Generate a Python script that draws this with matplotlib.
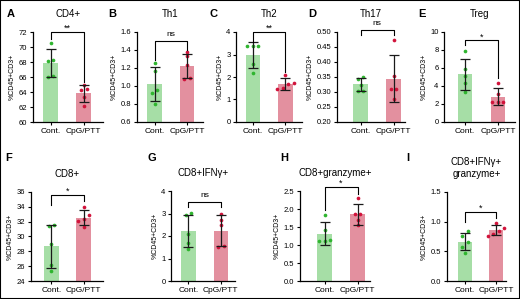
import matplotlib
matplotlib.use('Agg')
import matplotlib.pyplot as plt
import numpy as np
from matplotlib.ticker import MultipleLocator, FormatStrFormatter
from matplotlib.patches import Rectangle

plt.rcParams['font.family'] = ['Liberation Sans', 'DejaVu Sans']

groups = ['Cont.', 'CpG/PTT']
letters = ['A', 'B', 'C', 'D', 'E', 'F', 'G', 'H', 'I']
titles = ['CD4+', 'Th1', 'Th2', 'Th17', 'Treg',
          'CD8+', 'CD8+IFNγ+', 'CD8+granzyme+', 'CD8+IFNγ+\ngranzyme+']

# individual mice, % of CD45+CD3+
cont = [
    [70.6, 68.3, 68.2, 66.1, 66.0],
    [1.26, 1.17, 0.96, 0.92, 0.80],
    [3.40, 3.40, 3.40, 2.56, 2.18],
    [0.351, 0.343, 0.323, 0.304, 0.304],
    [7.91, 5.86, 5.11, 4.29, 3.32],
    [31.6, 31.4, 29.0, 26.2, 25.3],
    [3.02, 2.93, 2.10, 1.70, 1.42],
    [1.82, 1.41, 1.14, 1.12, 1.10],
    [0.838, 0.764, 0.65, 0.58, 0.47],
]
cpg = [
    [65.0, 64.4, 64.3, 63.4, 62.1],
    [1.38, 1.33, 1.23, 1.09, 1.08],
    [2.09, 1.75, 1.68, 1.50, 1.45],
    [0.474, 0.354, 0.309, 0.309, 0.275],
    [4.30, 3.10, 2.25, 2.20, 2.20],
    [34.0, 32.9, 32.4, 32.1, 31.3],
    [2.96, 2.73, 2.47, 1.54, 1.51],
    [2.31, 1.87, 1.85, 1.69, 1.55],
    [0.974, 0.89, 0.85, 0.79, 0.76],
]
signif = ['**', 'ns', '**', 'ns', '*', '*', 'ns', '*', '*']

# layout: axes box in pixels (left, top, right, bottom), xlim, ylim, tick step, tick format
layout = [
    ((33, 32, 103, 122), (-0.53, 1.58), (60, 72), 2, '%d'),
    ((137, 32, 203, 122), (-0.55, 1.50), (0.6, 1.6), 0.2, '%.1f'),
    ((236, 32, 302, 122), (-0.52, 1.51), (0, 4), 1, '%d'),
    ((337, 32, 405, 122), (-0.71, 1.34), (0.2, 0.5), 0.05, '%.2f'),
    ((444, 32, 515, 122), (-0.64, 1.52), (0, 10), 2, '%d'),
    ((31, 192, 103, 281), (-0.63, 1.60), (24, 36), 2, '%d'),
    ((171, 191, 235, 281), (-0.54, 1.44), (0, 4), 1, '%d'),
    ((300, 191, 370, 281), (-0.75, 1.38), (0, 2.5), 0.5, '%.1f'),
    ((447, 192, 506, 281), (-0.58, 1.32), (0, 1.5), 0.5, '%.1f'),
]
# bracket: height, left leg end, right leg end
brackets = [
    (72.0, 71.06, 65.4), (1.495, 1.29, 1.40), (4.0, 3.56, 2.21),
    (0.505, 0.489, 0.489), (9.07, 8.58, 4.85), (35.6, 34.3, 34.8),
    (3.51, 3.29, 3.29), (2.61, 1.98, 2.43), (1.16, 1.0, 1.07),
]
letter_pos = [(7, 14), (108, 14), (210, 14), (308, 14), (418, 14),
              (5, 158), (148, 158), (280, 158), (406, 158)]

bar_cols = ['#a6dea6', '#e3909f']
dot_cols = ['#2fb52f', '#d1133b']

W, H = 520, 299
fig = plt.figure(figsize=(W / 100, H / 100), dpi=100)
fig.patches.append(Rectangle((0, 0), 1, 1, transform=fig.transFigure,
                             fill=False, edgecolor='black', linewidth=1.5))


def swarm(ax, x0, ys, spacing=5.5):
    ypx = ax.transData.transform(np.column_stack([np.full(len(ys), x0), ys]))[:, 1]
    order = np.argsort(ypx)
    off = np.zeros(len(ys))
    clusters, cur = [], [order[0]]
    for i in order[1:]:
        if ypx[i] - ypx[cur[-1]] < spacing * 0.8:
            cur.append(i)
        else:
            clusters.append(cur)
            cur = [i]
    clusters.append(cur)
    for c in clusters:
        for k, i in enumerate(c):
            off[i] = (k - (len(c) - 1) / 2) * spacing
    pxu = ax.transData.transform((1, 0))[0] - ax.transData.transform((0, 0))[0]
    return x0 + off / pxu


for i in range(9):
    (l, t, r, b), xl, yl, step, fmt = layout[i]
    ax = fig.add_axes([l / W, 1 - b / H, (r - l) / W, (b - t) / H])
    ax.set_xlim(*xl)
    ax.set_ylim(*yl)
    data = [np.array(cont[i]), np.array(cpg[i])]
    means = [d.mean() for d in data]
    sds = [d.std(ddof=1) for d in data]
    ax.bar([0, 1], means, width=0.45, color=bar_cols, zorder=1)
    for g in range(2):
        ax.scatter(swarm(ax, g, data[g]), data[g], s=7, color=dot_cols[g],
                   linewidths=0, zorder=2, clip_on=False)
    ax.errorbar([0, 1], means, yerr=sds, fmt='none', ecolor='#1a1a1a',
                elinewidth=0.9, capsize=3.5, capthick=0.9, zorder=3)

    by, lend, rend = brackets[i]
    ax.plot([0, 0, 1, 1], [lend, by, by, rend], color='black', lw=0.8,
            clip_on=False, zorder=4)
    if signif[i] == 'ns':
        ax.annotate('ns', (0.5, by), xytext=(0, 5), textcoords='offset points',
                    ha='center', va='center', fontsize=6, annotation_clip=False)
    else:
        ax.annotate(signif[i], (0.5, by), xytext=(0, 2.5), textcoords='offset points',
                    ha='center', va='center', fontsize=6.5, annotation_clip=False)

    ax.spines['top'].set_visible(False)
    ax.spines['right'].set_visible(False)
    ax.spines['left'].set_linewidth(0.9)
    ax.spines['bottom'].set_linewidth(0.9)
    ax.yaxis.set_major_locator(MultipleLocator(step))
    ax.yaxis.set_major_formatter(FormatStrFormatter(fmt))
    ax.set_xticks([0, 1])
    ax.set_xticklabels(groups, fontsize=6)
    ax.tick_params(axis='y', labelsize=5.5, length=2.5, width=0.8, pad=1.5)
    ax.tick_params(axis='x', length=2.5, width=0.8, pad=2)
    ax.set_ylabel('%CD45+CD3+', fontsize=5, labelpad=2)
    ax.set_title(titles[i], fontsize=7, pad=10.5, linespacing=1.3)

    lx, ly = letter_pos[i]
    fig.text(lx / W, 1 - ly / H, letters[i], fontsize=8, fontweight='bold',
             ha='left', va='center')

fig.savefig('out.png', dpi=100)
